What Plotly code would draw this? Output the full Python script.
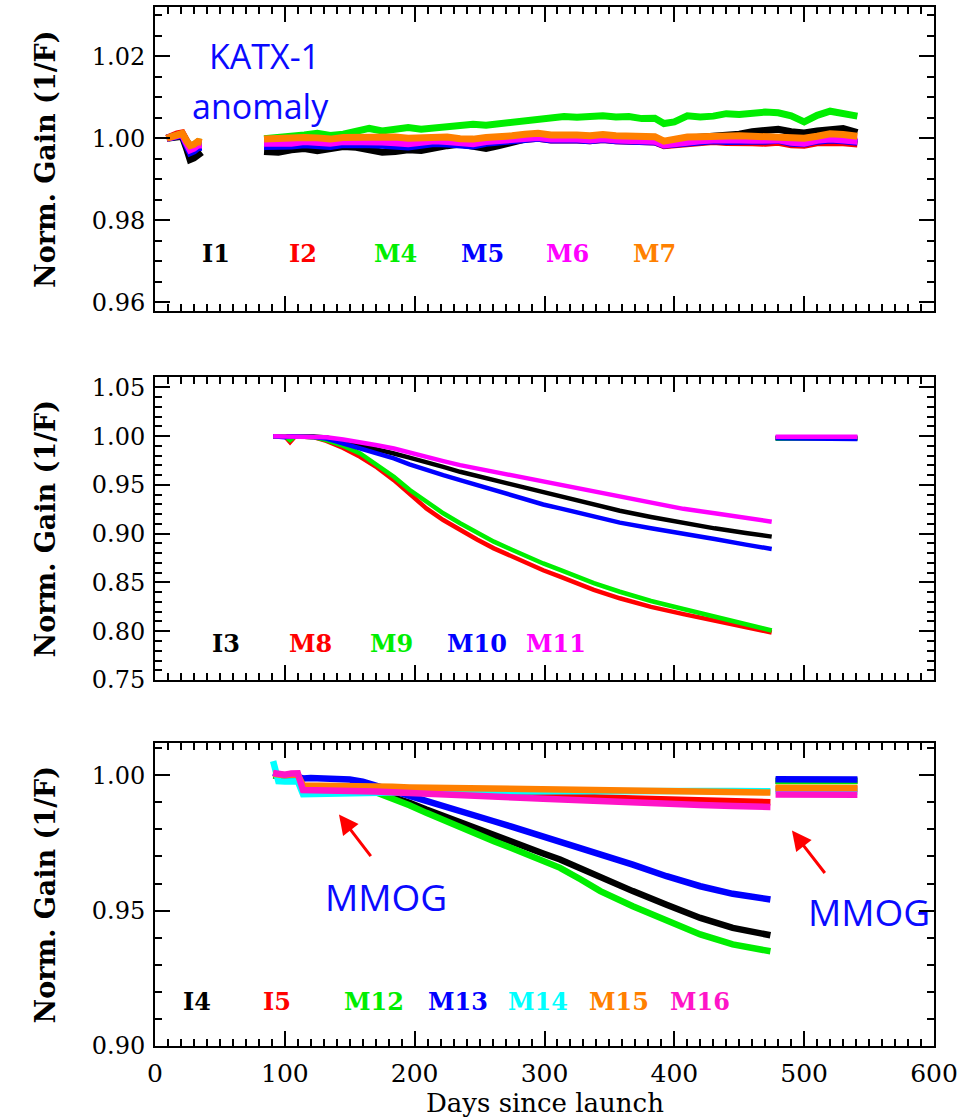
import plotly.graph_objects as go

# ---------------- DATA ----------------
# Top panel (I1, I2, M4, M5, M6, M7)
top_days_a = [9, 13, 17, 21, 24, 27, 30, 33, 36]
top_days_b = [84, 95, 105, 115, 125, 135, 145, 155, 165, 175,
              185, 195, 205, 215, 225, 235, 245, 255, 265, 275,
              285, 295, 305, 315, 325, 335, 345, 355, 365, 375,
              385, 392, 400, 410, 420, 430, 440, 450, 460, 470,
              480, 490, 500, 510, 520, 530, 541]

top_I1_a = [1.0000, 1.0001, 1.0003, 1.0005, 0.9978, 0.9948, 0.9952, 0.9962, 0.9966]
top_I2_a = [1.0000, 1.0006, 1.0011, 1.0013, 0.9993, 0.9979, 0.9982, 0.9988, 0.9988]
top_M4_a = [1.0000, 1.0005, 1.0009, 1.0011, 0.9994, 0.9981, 0.9984, 0.9991, 0.9990]
top_M5_a = [1.0000, 1.0003, 1.0006, 1.0008, 0.9985, 0.9965, 0.9969, 0.9977, 0.9978]
top_M6_a = [1.0000, 1.0004, 1.0008, 1.0010, 0.9990, 0.9972, 0.9976, 0.9983, 0.9984]
top_M7_a = [1.0000, 1.0005, 1.0010, 1.0012, 0.9995, 0.9982, 0.9985, 0.9992, 0.9990]

top_I1_b = [0.9968, 0.9966, 0.9972, 0.9975, 0.9970, 0.9976, 0.9980, 0.9978, 0.9974, 0.9966,
            0.9968, 0.9972, 0.9970, 0.9978, 0.9982, 0.9986, 0.9980, 0.9975, 0.9982, 0.9992,
            0.9998, 1.0004, 1.0000, 1.0002, 1.0000, 0.9998, 1.0002, 1.0000, 0.9998, 0.9999,
            0.9996, 0.9986, 0.9985, 1.0000, 1.0002, 1.0004, 1.0006, 1.0010, 1.0016, 1.0018,
            1.0022, 1.0016, 1.0013, 1.0018, 1.0022, 1.0024, 1.0014]
top_I2_b = [0.9988, 0.9987, 0.9986, 0.9990, 0.9989, 0.9987, 0.9990, 0.9991, 0.9989, 0.9990,
            0.9988, 0.9987, 0.9990, 0.9992, 0.9989, 0.9986, 0.9985, 0.9990, 0.9992, 0.9995,
            0.9997, 1.0000, 0.9996, 0.9998, 0.9996, 0.9994, 0.9997, 0.9994, 0.9992, 0.9993,
            0.9991, 0.9982, 0.9984, 0.9990, 0.9990, 0.9992, 0.9990, 0.9991, 0.9989, 0.9988,
            0.9990, 0.9984, 0.9983, 0.9989, 0.9991, 0.9989, 0.9986]
top_M4_b = [0.9999, 1.0001, 1.0003, 1.0008, 1.0012, 1.0007, 1.0010, 1.0016, 1.0024, 1.0018,
            1.0021, 1.0026, 1.0022, 1.0025, 1.0028, 1.0031, 1.0034, 1.0032, 1.0036, 1.0040,
            1.0043, 1.0045, 1.0050, 1.0053, 1.0051, 1.0054, 1.0055, 1.0052, 1.0053, 1.0048,
            1.0049, 1.0036, 1.0040, 1.0055, 1.0052, 1.0054, 1.0060, 1.0058, 1.0061, 1.0064,
            1.0062, 1.0055, 1.0040, 1.0056, 1.0066, 1.0060, 1.0054]
top_M5_b = [0.9980, 0.9979, 0.9981, 0.9984, 0.9982, 0.9980, 0.9985, 0.9986, 0.9984, 0.9983,
            0.9981, 0.9979, 0.9983, 0.9987, 0.9986, 0.9982, 0.9981, 0.9988, 0.9991, 0.9994,
            0.9997, 1.0000, 0.9996, 0.9998, 0.9996, 0.9994, 0.9997, 0.9994, 0.9992, 0.9993,
            0.9991, 0.9983, 0.9985, 0.9991, 0.9992, 0.9994, 0.9992, 0.9994, 0.9993, 0.9993,
            0.9995, 0.9988, 0.9987, 0.9993, 0.9996, 0.9994, 0.9990]
top_M6_b = [0.9988, 0.9987, 0.9988, 0.9992, 0.9990, 0.9988, 0.9992, 0.9993, 0.9991, 0.9991,
            0.9989, 0.9987, 0.9990, 0.9994, 0.9992, 0.9988, 0.9987, 0.9992, 0.9994, 0.9997,
            1.0000, 1.0002, 0.9998, 1.0000, 0.9998, 0.9996, 0.9999, 0.9996, 0.9994, 0.9995,
            0.9993, 0.9984, 0.9987, 0.9993, 0.9994, 0.9996, 0.9994, 0.9996, 0.9995, 0.9994,
            0.9996, 0.9990, 0.9988, 0.9995, 0.9998, 0.9996, 0.9993]
top_M7_b = [0.9998, 1.0000, 0.9999, 1.0002, 1.0001, 0.9998, 1.0002, 1.0003, 1.0001, 1.0004,
            1.0003, 1.0000, 1.0002, 1.0005, 1.0003, 0.9999, 0.9998, 1.0002, 1.0003, 1.0006,
            1.0010, 1.0012, 1.0008, 1.0010, 1.0008, 1.0006, 1.0009, 1.0006, 1.0004, 1.0005,
            1.0004, 0.9993, 0.9998, 1.0003, 1.0004, 1.0006, 1.0004, 1.0006, 1.0005, 1.0004,
            1.0006, 1.0002, 1.0000, 1.0005, 1.0011, 1.0009, 1.0005]

# Middle panel (I3, M8, M9, M10, M11)
mid_days_a = [91, 100, 104, 108, 115, 122, 132, 145, 158, 171,
              184, 196, 209, 222, 235, 248, 261, 274, 286, 299,
              312, 325, 338, 358, 382, 407, 431, 455, 475]
mid_days_b = [478, 500, 520, 541]

mid_I3_a = [1.000, 1.000, 1.000, 1.000, 1.000, 0.9998, 0.9986, 0.9948, 0.9908, 0.9865,
            0.9823, 0.978, 0.9737, 0.9686, 0.9635, 0.9592, 0.955, 0.9507, 0.9465, 0.9422,
            0.938, 0.9337, 0.9294, 0.9236, 0.9172, 0.9110, 0.9055, 0.9008, 0.897]
mid_M8_a = [1.000, 1.000, 0.994, 1.000, 0.9995, 0.999, 0.9952, 0.988, 0.9788, 0.968,
            0.955, 0.941, 0.926, 0.914, 0.9038, 0.894, 0.885, 0.877, 0.8697, 0.8625,
            0.856, 0.849, 0.8424, 0.8338, 0.8250, 0.8175, 0.8105, 0.8042, 0.7987]
mid_M9_a = [1.000, 1.000, 0.996, 1.000, 0.9995, 0.999, 0.996, 0.990, 0.9823, 0.971,
            0.9584, 0.945, 0.9328, 0.921, 0.9107, 0.901, 0.8919, 0.884, 0.8765, 0.8695,
            0.8629, 0.856, 0.8493, 0.8405, 0.8310, 0.8228, 0.8152, 0.8075, 0.8008]
mid_M10_a = [1.000, 0.999, 1.000, 1.000, 0.9998, 0.9992, 0.9976, 0.9925, 0.9874, 0.9823,
             0.9772, 0.9712, 0.9652, 0.9601, 0.955, 0.950, 0.9447, 0.9396, 0.9345, 0.930,
             0.926, 0.9217, 0.9174, 0.9114, 0.9056, 0.9004, 0.8945, 0.8888, 0.8844]
mid_M11_a = [1.000, 1.000, 1.000, 1.000, 1.000, 0.9998, 0.999, 0.9966, 0.9942, 0.9908,
             0.9874, 0.9831, 0.9788, 0.9745, 0.9703, 0.9669, 0.9635, 0.9601, 0.9567, 0.9533,
             0.95, 0.9465, 0.943, 0.9385, 0.9315, 0.9255, 0.9210, 0.9166, 0.9123]
mid_I3_b = [0.9985, 0.9990, 0.9988, 0.9985]
mid_M8_b = [0.9982, 0.9985, 0.9984, 0.9982]
mid_M9_b = [0.9975, 0.9980, 0.9978, 0.9975]
mid_M10_b = [0.9978, 0.9975, 0.9977, 0.9970]
mid_M11_b = [0.9995, 0.9998, 0.9997, 0.9995]

# Bottom panel (I4, I5, M12, M13, M14, M15, M16)
bot_days_a = [91, 95, 100, 105, 110, 114, 120, 130, 140, 150,
              160, 170, 183, 196, 209, 222, 235, 248, 261, 274,
              286, 299, 312, 328, 343, 368, 394, 420, 445, 474]
bot_days_b = [478, 500, 520, 541]

bot_I4_a = [1.0000, 0.9998, 0.9996, 0.9995, 0.9993, 0.9950, 0.9950, 0.9950, 0.9949, 0.9948,
            0.9946, 0.9940, 0.9922, 0.9898, 0.9873, 0.9849, 0.9824, 0.9800, 0.9775, 0.9754,
            0.9732, 0.9711, 0.9689, 0.9655, 0.9621, 0.9572, 0.9522, 0.9473, 0.9436, 0.9409]
bot_I5_a = [1.0002, 1.0000, 0.9999, 1.0001, 0.9998, 0.9958, 0.9958, 0.9957, 0.9956, 0.9955,
            0.9954, 0.9952, 0.9949, 0.9946, 0.9943, 0.9940, 0.9937, 0.9934, 0.9931, 0.9928,
            0.9926, 0.9924, 0.9922, 0.9920, 0.9918, 0.9914, 0.9910, 0.9906, 0.9902, 0.9900]
bot_M12_a = [1.0000, 0.9998, 0.9996, 0.9995, 0.9993, 0.9950, 0.9950, 0.9949, 0.9948, 0.9947,
             0.9945, 0.9937, 0.9916, 0.9889, 0.9861, 0.9834, 0.9806, 0.9781, 0.9756, 0.9732,
             0.9707, 0.9683, 0.9658, 0.9615, 0.9572, 0.9516, 0.9461, 0.9412, 0.9375, 0.9350]
bot_M13_a = [1.0010, 1.0002, 0.9998, 1.0000, 0.9996, 0.9988, 0.9990, 0.9989, 0.9986, 0.9984,
             0.9976, 0.9964, 0.9943, 0.9924, 0.9904, 0.9886, 0.9867, 0.9848, 0.9830, 0.9811,
             0.9793, 0.9775, 0.9756, 0.9733, 0.9710, 0.9670, 0.9627, 0.9590, 0.9562, 0.9541]
bot_M14_a = [1.0052, 0.9978, 0.9977, 0.9980, 0.9978, 0.9930, 0.9931, 0.9931, 0.9932, 0.9932,
             0.9933, 0.9935, 0.9936, 0.9937, 0.9938, 0.9938, 0.9939, 0.9940, 0.9940, 0.9940,
             0.9941, 0.9941, 0.9941, 0.9941, 0.9942, 0.9942, 0.9942, 0.9942, 0.9942, 0.9941]
bot_M15_a = [1.0005, 1.0002, 1.0000, 1.0003, 1.0001, 0.9962, 0.9962, 0.9961, 0.9960, 0.9960,
             0.9959, 0.9958, 0.9957, 0.9955, 0.9954, 0.9953, 0.9952, 0.9951, 0.9950, 0.9949,
             0.9948, 0.9947, 0.9946, 0.9944, 0.9943, 0.9941, 0.9940, 0.9938, 0.9937, 0.9936]
bot_M16_a = [1.0008, 1.0003, 1.0002, 1.0006, 1.0007, 0.9945, 0.9945, 0.9944, 0.9943, 0.9943,
             0.9942, 0.9940, 0.9937, 0.9935, 0.9932, 0.9929, 0.9927, 0.9924, 0.9921, 0.9918,
             0.9916, 0.9913, 0.9910, 0.9907, 0.9905, 0.9900, 0.9895, 0.9890, 0.9886, 0.9883]
bot_I4_b = [0.9980, 0.9981, 0.9980, 0.9980]
bot_I5_b = [0.9950, 0.9950, 0.9950, 0.9950]
bot_M12_b = [0.9979, 0.9980, 0.9979, 0.9979]
bot_M13_b = [0.9985, 0.9985, 0.9984, 0.9984]
bot_M14_b = [0.9942, 0.9941, 0.9941, 0.9940]
bot_M15_b = [0.9954, 0.9953, 0.9953, 0.9953]
bot_M16_b = [0.9929, 0.9929, 0.9928, 0.9928]

top_labels = ["I1", "I2", "M4", "M5", "M6", "M7"]
mid_labels = ["I3", "M8", "M9", "M10", "M11"]
bot_labels = ["I4", "I5", "M12", "M13", "M14", "M15", "M16"]

x_ticks = [0, 100, 200, 300, 400, 500, 600]

# ---------------- STYLE ----------------
BLACK, RED, GREEN, BLUE = "#000000", "#ff0000", "#00ee00", "#0000ff"
MAGENTA, ORANGE, CYAN, PINK = "#ff00ff", "#ff8000", "#00ffff", "#ff14c8"
TXT_BLUE = "#0a0aff"

top_colors = [BLACK, RED, GREEN, BLUE, MAGENTA, ORANGE]
mid_colors = [BLACK, RED, GREEN, BLUE, MAGENTA]
bot_colors = [BLACK, RED, GREEN, BLUE, CYAN, ORANGE, PINK]

W, H = 968, 1120
XL, XR = 155, 934
panels = {  # pixel top, bottom
    "top": (7, 311),
    "mid": (377, 680),
    "bot": (743, 1046),
}

fig = go.Figure()


def seg(a, b):
    return list(a) + [None] + list(b)


def add_series(xa, ya, days_a, days_b, vals_a, vals_b, color, width):
    fig.add_trace(go.Scatter(
        x=seg(days_a, days_b), y=seg(vals_a, vals_b), mode="lines",
        line=dict(color=color, width=width), connectgaps=False,
        xaxis=xa, yaxis=ya, showlegend=False, hoverinfo="skip"))


top_a = [top_I1_a, top_I2_a, top_M4_a, top_M5_a, top_M6_a, top_M7_a]
top_b = [top_I1_b, top_I2_b, top_M4_b, top_M5_b, top_M6_b, top_M7_b]
for va, vb, c in zip(top_a, top_b, top_colors):
    add_series("x", "y", top_days_a, top_days_b, va, vb, c, 7)

mid_a = [mid_I3_a, mid_M8_a, mid_M9_a, mid_M10_a, mid_M11_a]
mid_b = [mid_I3_b, mid_M8_b, mid_M9_b, mid_M10_b, mid_M11_b]
for va, vb, c in zip(mid_a, mid_b, mid_colors):
    add_series("x2", "y2", mid_days_a, mid_days_b, va, vb, c, 4.5)

bot_a = [bot_I4_a, bot_I5_a, bot_M12_a, bot_M13_a, bot_M14_a, bot_M15_a, bot_M16_a]
bot_b = [bot_I4_b, bot_I5_b, bot_M12_b, bot_M13_b, bot_M14_b, bot_M15_b, bot_M16_b]
for va, vb, c in zip(bot_a, bot_b, bot_colors):
    add_series("x3", "y3", bot_days_a, bot_days_b, va, vb, c, 6.5)


def dom(p):
    t, b = panels[p]
    return [1 - b / H, 1 - t / H]


tick_font = dict(family="DejaVu Serif", size=24, color="black")
common = dict(showline=True, linecolor="black", linewidth=2, mirror="allticks",
              ticks="inside", ticklen=15, tickwidth=2, tickcolor="black",
              showgrid=False, zeroline=False, tickfont=tick_font, automargin=False)

xdom = [XL / W, XR / W]
xcommon = dict(common, range=[0, 600], tickvals=x_ticks, domain=xdom,
               minor=dict(ticks="inside", ticklen=7, tickwidth=1.5, dtick=10,
                          tick0=0, tickcolor="black", showgrid=False))

fig.update_layout(
    width=W, height=H, autosize=False, margin=dict(l=0, r=0, t=0, b=0, pad=0),
    paper_bgcolor="white", plot_bgcolor="white", showlegend=False,
    xaxis=dict(xcommon, anchor="y", showticklabels=False),
    xaxis2=dict(xcommon, anchor="y2", showticklabels=False),
    xaxis3=dict(xcommon, anchor="y3", showticklabels=True,
                tickfont=dict(family="DejaVu Serif", size=25, color="black"),
                ticklabelstandoff=4),
    yaxis=dict(common, anchor="x", domain=dom("top"), range=[0.9579, 1.032],
               tick0=0.96, dtick=0.02, tickformat=".2f", ticklabelstandoff=3,
               minor=dict(ticks="inside", ticklen=7, tickwidth=1.5, dtick=0.005,
                          tick0=0.96, tickcolor="black", showgrid=False)),
    yaxis2=dict(common, anchor="x2", domain=dom("mid"), range=[0.75, 1.0607],
                tick0=0.75, dtick=0.05, tickformat=".2f", ticklabelstandoff=3,
                minor=dict(ticks="inside", ticklen=7, tickwidth=1.5, dtick=0.01,
                           tick0=0.75, tickcolor="black", showgrid=False)),
    yaxis3=dict(common, anchor="x3", domain=dom("bot"), range=[0.90, 1.0119],
                tick0=0.90, dtick=0.05, tickformat=".2f", ticklabelstandoff=3,
                minor=dict(ticks="inside", ticklen=7, tickwidth=1.5, dtick=0.01,
                           tick0=0.90, tickcolor="black", showgrid=False)),
)

ann = []
# y-axis titles
for p in ["top", "mid", "bot"]:
    d = dom(p)
    ann.append(dict(text="Norm. Gain (1/F)", xref="paper", yref="paper",
                    x=45 / W, y=(d[0] + d[1]) / 2, textangle=-90, showarrow=False,
                    font=dict(family="DejaVu Serif", size=27, color="black", weight="bold"),
                    xanchor="center", yanchor="middle"))
# x-axis title
ann.append(dict(text="Days since launch", xref="paper", yref="paper",
                x=(XL + XR) / 2 / W, y=1 - 1103 / H, showarrow=False,
                font=dict(family="DejaVu Serif", size=26, color="black"),
                xanchor="center", yanchor="middle"))

# channel labels
lab_font = "DejaVu Serif"
top_lab_x = [47, 114, 185, 252, 318, 385]
mid_lab_x = [55, 120, 182, 248, 309]
bot_lab_x = [32, 94, 169, 233, 295, 357, 420]
for t, c, xv in zip(top_labels, top_colors, top_lab_x):
    ann.append(dict(text=t, x=xv, y=0.9719, xref="x", yref="y", showarrow=False,
                    font=dict(family=lab_font, size=24, color=c, weight="bold")))
for t, c, xv in zip(mid_labels, mid_colors, mid_lab_x):
    ann.append(dict(text=t, x=xv, y=0.7877, xref="x2", yref="y2", showarrow=False,
                    font=dict(family=lab_font, size=24, color=c, weight="bold")))
for t, c, xv in zip(bot_labels, bot_colors, bot_lab_x):
    ann.append(dict(text=t, x=xv, y=0.9166, xref="x3", yref="y3", showarrow=False,
                    font=dict(family=lab_font, size=24, color=c, weight="bold")))

# blue notes
note_font = dict(family="Open Sans", size=34, color=TXT_BLUE)
ann.append(dict(text="KATX-1", x=84.3, y=1.0201, xref="x", yref="y", showarrow=False, font=note_font))
ann.append(dict(text="anomaly", x=81.2, y=1.0079, xref="x", yref="y", showarrow=False, font=note_font))
mm_font = dict(family="Open Sans", size=37, color=TXT_BLUE)
ann.append(dict(text="MMOG", x=178.3, y=0.9552, xref="x3", yref="y3", showarrow=False, font=mm_font))
ann.append(dict(text="MMOG", x=550.3, y=0.9497, xref="x3", yref="y3", showarrow=False, font=mm_font))

# red arrows
for hx, hy, tx, ty in [(141.7, 0.98548, 167.1, 0.9696), (490.6, 0.97957, 516.8, 0.96335)]:
    ann.append(dict(text="", x=hx, y=hy, ax=tx, ay=ty, xref="x3", yref="y3",
                    axref="x3", ayref="y3", showarrow=True, arrowhead=2,
                    arrowsize=1.3, arrowwidth=3, arrowcolor="#ff0000"))

fig.update_layout(annotations=ann)

page_fix = ("document.documentElement.style.margin='0';"
            "document.body.style.margin='0';"
            "document.body.style.overflow='hidden';"
            "var gd=document.getElementById('{plot_id}');"
            "Plotly.relayout(gd,{width:968,height:1120});")
fig.write_html("out.html", config={"responsive": False, "displayModeBar": False},
               post_script=page_fix)
